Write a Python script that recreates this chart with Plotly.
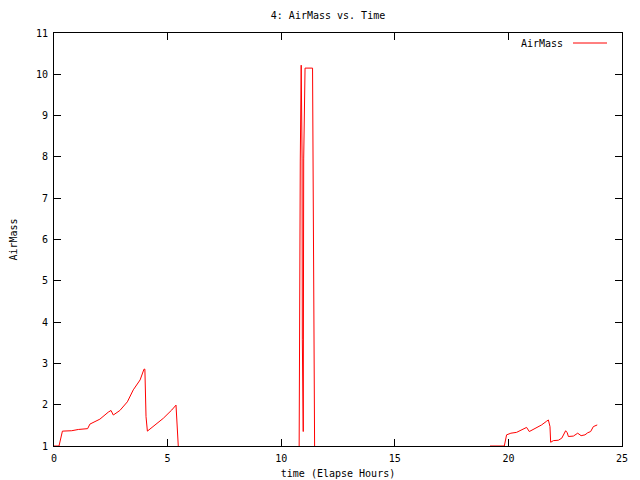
import plotly.graph_objects as go

# Time (elapsed hours) and air mass values; None marks gaps
time_h = [
    0.00, 0.22, 0.37, 0.78, 1.07, 1.48, 1.58, 2.02, 2.39, 2.51, 2.61, 2.90,
    3.23, 3.49, 3.79, 3.96, 4.00, 4.05, 4.11, 4.37, 4.81, 5.18, 5.37, 5.47,
    None,
    10.79, 10.80, 10.84, 10.88, 10.92, 10.93, 10.97, 10.99, 11.05, 11.38,
    11.40, 11.43, 11.47,
    None,
    19.19, 19.82, 19.92, 20.11, 20.36, 20.66, 20.80, 20.92, 21.10, 21.46,
    21.68, 21.76, 21.83, 21.86, 21.98, 22.20, 22.35, 22.42, 22.52, 22.59,
    22.64, 22.86, 23.05, 23.15, 23.20, 23.37, 23.49, 23.62, 23.74, 23.91,
]
airmass = [
    1.00, 1.00, 1.36, 1.37, 1.40, 1.42, 1.53, 1.65, 1.82, 1.86, 1.75, 1.86,
    2.07, 2.36, 2.60, 2.86, 2.86, 1.71, 1.36, 1.47, 1.67, 1.87, 1.99, 1.00,
    None,
    1.00, 3.30, 7.90, 10.22, 7.95, 3.57, 1.35, 7.95, 10.15, 10.15,
    7.85, 3.30, 1.00,
    None,
    1.00, 1.00, 1.27, 1.31, 1.33, 1.40, 1.45, 1.35, 1.40, 1.51,
    1.60, 1.63, 1.47, 1.09, 1.13, 1.14, 1.19, 1.26, 1.37, 1.32,
    1.23, 1.24, 1.31, 1.27, 1.25, 1.27, 1.32, 1.35, 1.47, 1.51,
]

series_name = "AirMass"
chart_title = "4: AirMass vs. Time"
x_title = "time (Elapse Hours)"
y_title = "AirMass"

FONT = "DejaVu Sans Mono"

fig = go.Figure()
fig.add_trace(go.Scatter(
    x=time_h, y=airmass, mode="lines", name=series_name,
    line=dict(color="#ff0000", width=1), connectgaps=False, showlegend=False,
))

axis_common = dict(
    showline=True, mirror="allticks", linecolor="black", linewidth=1,
    ticks="inside", ticklen=7, tickcolor="black", tickwidth=1,
    showgrid=False, zeroline=False,
    tickfont=dict(family=FONT, size=10, color="black"),
)

# page body has an 8px margin, so the figure sits at (8, 8) in the window
fig.update_layout(
    width=640, height=480,
    paper_bgcolor="white", plot_bgcolor="white",
    margin=dict(l=46, r=26, t=25, b=42),
    font=dict(family=FONT, size=10, color="black"),
    title=dict(text=chart_title, x=0.5, xref="container", xanchor="center",
               y=1 - 7 / 480, yref="container", yanchor="middle",
               font=dict(family=FONT, size=10, color="black")),
    xaxis=dict(range=[0, 25], dtick=5, tick0=0, ticklabelstandoff=3,
               title=dict(text=x_title, standoff=6,
                          font=dict(family=FONT, size=10, color="black")),
               automargin=False, **axis_common),
    yaxis=dict(range=[1, 11], dtick=1, tick0=1, ticklabelstandoff=3,
               title=dict(text=y_title, standoff=16,
                          font=dict(family=FONT, size=10, color="black")),
               automargin=False, **axis_common),
    showlegend=False,
)

# gnuplot-style key: text followed by line sample, top right
fig.add_annotation(text=series_name, xref="paper", yref="paper",
                   x=(565 - 54) / 568, y=(446 - 43) / 413, xanchor="right",
                   yanchor="middle", showarrow=False,
                   font=dict(family=FONT, size=10, color="black"))
fig.add_shape(type="line", xref="paper", yref="paper",
              x0=(573 - 54) / 568, x1=(607 - 54) / 568,
              y0=(446 - 43) / 413, y1=(446 - 43) / 413,
              line=dict(color="#ff0000", width=1))

fig.write_html("out.html")
